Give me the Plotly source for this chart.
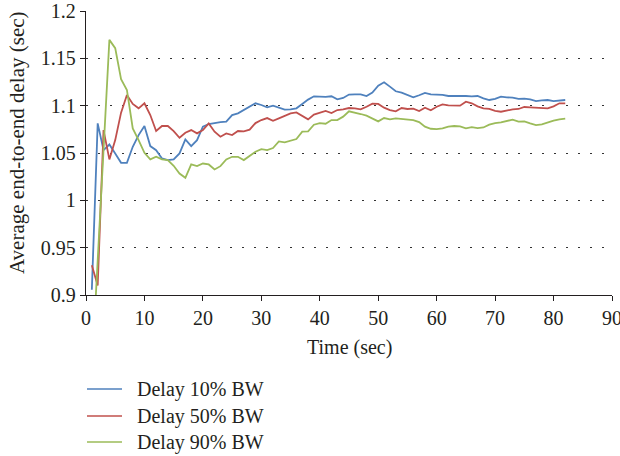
import plotly.graph_objects as go

time_sec = list(range(1, 83))

delay_10 = [0.9055, 1.0813, 1.053, 1.059, 1.0495, 1.0396, 1.0396, 1.0566, 1.0689, 1.0785,
            1.0573, 1.053, 1.0442, 1.0425, 1.0432, 1.0495, 1.0643, 1.0573, 1.0636, 1.0778,
            1.0806, 1.082, 1.0827, 1.0831, 1.0901, 1.0919, 1.0954, 1.0996, 1.1025, 1.1007,
            1.0982, 1.100, 1.0982, 1.0958, 1.0961, 1.0972, 1.1018, 1.1064, 1.1099, 1.1095,
            1.1092, 1.1099, 1.1067, 1.1081, 1.1117, 1.112, 1.112, 1.1102, 1.1138, 1.1212,
            1.1247, 1.1201, 1.1152, 1.1138, 1.1113, 1.1088, 1.111, 1.1134, 1.112, 1.112,
            1.1113, 1.1102, 1.1102, 1.1109, 1.1102, 1.1099, 1.1102, 1.1078, 1.106, 1.1071,
            1.1095, 1.1088, 1.1085, 1.1071, 1.1074, 1.1067, 1.1049, 1.1056, 1.106, 1.1049,
            1.1053, 1.106]

delay_50 = [0.9313, 0.9101, 1.0742, 1.0432, 1.0636, 1.0926, 1.1113, 1.1018, 1.0972, 1.1025,
            1.0901, 1.0732, 1.0785, 1.0785, 1.0732, 1.0661, 1.0714, 1.0742, 1.0707, 1.0742,
            1.0813, 1.0725, 1.0672, 1.0707, 1.0689, 1.0732, 1.0728, 1.0746, 1.0816, 1.0848,
            1.0869, 1.0841, 1.0866, 1.0891, 1.0919, 1.0929, 1.0894, 1.0855, 1.0905, 1.0926,
            1.0944, 1.0922, 1.0954, 1.0961, 1.0975, 1.0972, 1.0961, 1.0989, 1.1021, 1.1018,
            1.0979, 1.0954, 1.094, 1.0975, 1.0965, 1.0968, 1.0944, 1.0979, 1.0951, 1.0989,
            1.1014, 1.1004, 1.1, 1.1, 1.1042, 1.1025, 1.0993, 1.0972, 1.0965, 1.0944,
            1.0936, 1.0951, 1.0961, 1.0965, 1.0986, 1.0982, 1.0979, 1.0982, 1.0972, 1.0993,
            1.1025, 1.1025]

delay_90 = [0.82, 0.94, 1.054, 1.1695, 1.1607, 1.1279, 1.1166, 1.076, 1.0636, 1.0502,
            1.0432, 1.046, 1.0432, 1.0425, 1.0365, 1.0283, 1.0238, 1.0379, 1.0361, 1.0389,
            1.0379, 1.0326, 1.0361, 1.0432, 1.046, 1.046, 1.0425, 1.0467, 1.0513, 1.0541,
            1.053, 1.0552, 1.0622, 1.0612, 1.0629, 1.0647, 1.0725, 1.0728, 1.0799, 1.0816,
            1.0809, 1.0848, 1.0848, 1.0884, 1.094, 1.0929, 1.0912, 1.0894, 1.0866, 1.0834,
            1.0869, 1.0855, 1.0866, 1.0862, 1.0859, 1.0848, 1.0827, 1.0778, 1.0756, 1.0753,
            1.076, 1.0778, 1.0785, 1.0781, 1.076, 1.0774, 1.0763, 1.077, 1.0799, 1.0816,
            1.0823, 1.0838, 1.0852, 1.0831, 1.0834, 1.0813, 1.0795, 1.0802, 1.0823, 1.0841,
            1.0855, 1.0862]

series_names = ["Delay 10% BW", "Delay 50% BW", "Delay 90% BW"]
series_colors = ["#4F81BD", "#C0504D", "#9BBB59"]

x_ticks = [0, 10, 20, 30, 40, 50, 60, 70, 80, 90]
y_ticks = [0.9, 0.95, 1.0, 1.05, 1.1, 1.15, 1.2]
y_tick_text = ["0.9", "0.95", "1", "1.05", "1.1", "1.15", "1.2"]

FONT = "Liberation Serif"
TXT = "#231f20"

W, H = 620, 456
ML, MR, MT, MB = 86, 8, 11, 161
PW, PH = W - ML - MR, H - MT - MB


def px_x(px):
    return (px - ML) / PW


def px_y(py):
    return (H - MB - py) / PH


fig = go.Figure()
for name, ys, col in zip(series_names, [delay_10, delay_50, delay_90], series_colors):
    fig.add_trace(go.Scatter(x=time_sec, y=ys, mode="lines", name=name,
                             line=dict(color=col, width=1.8)))

# legend drawn below the plot (Excel style)
shapes = []
annotations = []
legend_rows = [389, 416, 442]
for name, col, ry in zip(series_names, series_colors, legend_rows):
    shapes.append(dict(type="line", xref="paper", yref="paper",
                       x0=px_x(87), x1=px_x(122), y0=px_y(ry), y1=px_y(ry),
                       line=dict(color=col, width=1.5)))
    annotations.append(dict(text=name, xref="paper", yref="paper",
                            x=px_x(135), y=px_y(ry), xanchor="left", yanchor="middle",
                            showarrow=False, font=dict(family=FONT, size=20, color=TXT)))

annotations.append(dict(text="Time (sec)", xref="paper", yref="paper",
                        x=px_x(349), y=px_y(347), xanchor="center", yanchor="middle",
                        showarrow=False, font=dict(family=FONT, size=20, color=TXT)))
annotations.append(dict(text="Average end-to-end delay (sec)", xref="paper", yref="paper",
                        x=px_x(17), y=px_y(143), xanchor="center", yanchor="middle",
                        textangle=-90, showarrow=False,
                        font=dict(family=FONT, size=21, color=TXT)))

fig.update_layout(
    width=W, height=H,
    margin=dict(l=ML, r=MR, t=MT, b=MB),
    paper_bgcolor="white", plot_bgcolor="white",
    font=dict(family=FONT, size=20, color=TXT),
    showlegend=False,
    xaxis=dict(range=[0, 90], tickvals=x_ticks, showgrid=False, zeroline=False,
               automargin=False,
               showline=True, linecolor="#231f20", linewidth=1.3,
               ticks="outside", ticklen=5, tickcolor="#231f20", tickwidth=1.3,
               ticklabeloverflow="allow",
               tickfont=dict(family=FONT, size=20, color=TXT)),
    yaxis=dict(range=[0.9, 1.2], tickvals=y_ticks, ticktext=y_tick_text,
               automargin=False,
               showgrid=True, gridcolor="#333333", gridwidth=1.3, griddash="2px,10px",
               zeroline=False, showline=True, linecolor="#231f20", linewidth=1.3,
               ticks="outside", ticklen=5, tickcolor="#231f20", tickwidth=1.3,
               ticklabeloverflow="allow",
               tickfont=dict(family=FONT, size=20, color=TXT)),
    shapes=shapes,
    annotations=annotations,
)

fig.write_html("out.html")
